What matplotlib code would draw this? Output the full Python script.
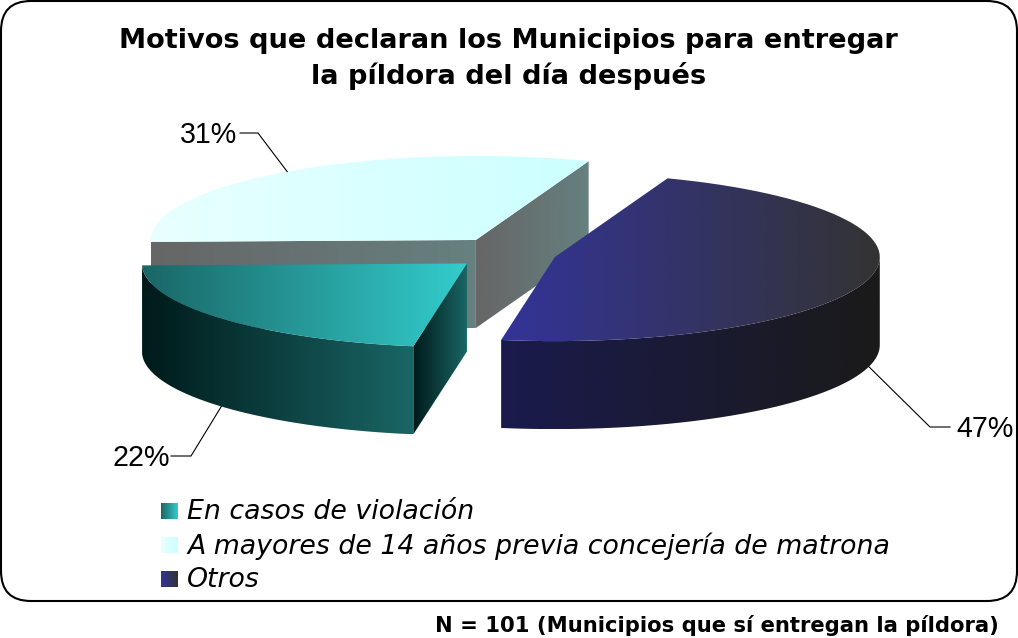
import numpy as np
import matplotlib
matplotlib.use("Agg")
import matplotlib.pyplot as plt
from matplotlib.colors import LinearSegmentedColormap
from matplotlib.patches import PathPatch, FancyBboxPatch
from matplotlib.path import Path

categories = ["En casos de violación",
              "A mayores de 14 años previa concejería de matrona",
              "Otros"]
values = [22, 31, 47]
top_colors = [("#1a6666", "#33cccc"), ("#e8ffff", "#ccffff"), ("#333399", "#333333")]
side_colors = [("#001a1a", "#1a6666"), ("#666666", "#668080"), ("#1a1a4d", "#1a1a1a")]
title = "Motivos que declaran los Municipios para entregar\nla píldora del día después"
footer = "N = 101 (Municipios que sí entregan la píldora)"

# pie geometry in pixels
cx, cy = 505.5, 253
rx, ry = 325, 84
depth = 88
ex, ey = 51, 16
start = -99.5

fig = plt.figure(figsize=(10.18, 6.38), dpi=100)
ax = fig.add_axes([0, 0, 1, 1])
ax.axis("off")


def grad(verts, colors, box=None):
    verts = np.array(verts)
    x0, x1 = verts[:, 0].min(), verts[:, 0].max()
    y0, y1 = verts[:, 1].min(), verts[:, 1].max()
    cmap = LinearSegmentedColormap.from_list("g", colors)
    im = ax.imshow(np.linspace(0, 1, 256).reshape(1, -1), cmap=cmap, aspect="auto",
                   extent=[x0, x1, y1, y0], interpolation="bilinear", zorder=2)
    patch = PathPatch(Path(np.vstack([verts, verts[0]])), fc="none", ec="none", transform=ax.transData)
    ax.add_patch(patch)
    im.set_clip_path(patch)


def rim(c, t):
    return np.column_stack([c[0] + rx * np.cos(t), c[1] - ry * np.sin(t)])


spans = np.array(values) / sum(values) * 2 * np.pi
ends = np.radians(start) - np.cumsum(spans)
starts = ends + spans
mids = (starts + ends) / 2

# back slice first, then the left one, the big one on top
for i in [1, 0, 2]:
    a, b, m = starts[i], ends[i], mids[i]
    c = (cx + ex * np.cos(m), cy - ey * np.sin(m))
    t = np.linspace(a, b, 200)
    arc = rim(c, t)
    down = np.array([0, depth])

    # cut faces, only the ones that look at the viewer
    for edge, normal in [(a, a + np.pi / 2), (b, b - np.pi / 2)]:
        if np.sin(normal) < 0:
            p = rim(c, np.array([edge]))[0]
            grad([c, p, p + down, np.array(c) + down], side_colors[i])

    # outer wall, front part of the rim
    front = arc[np.sin(t) < 0]
    if len(front):
        grad(np.vstack([front, (front + down)[::-1]]), side_colors[i])

    grad(np.vstack([[c], arc]), top_colors[i])

# leader lines and labels
label_elbow = [(191, 456), (258, 133), (930, 427)]
label_end = [(171, 456), (240, 133), (950, 427)]
label_pos = [(113, 458), (180, 135), (956, 429)]
for i in range(3):
    c = (cx + ex * np.cos(mids[i]), cy - ey * np.sin(mids[i]))
    p = rim(c, np.array([mids[i]]))[0]
    if np.sin(mids[i]) < 0:
        p = p + np.array([0, depth])
    xs = [p[0], label_elbow[i][0], label_end[i][0]]
    ys = [p[1], label_elbow[i][1], label_end[i][1]]
    ax.plot(xs, ys, color="black", lw=0.8, zorder=3)
    ax.text(label_pos[i][0], label_pos[i][1], "%d%%" % values[i], fontsize=20.6,
            family="Liberation Sans", va="center", ha="left", zorder=4)

# legend
leg_y = [511, 545, 579]
for i in range(3):
    y = leg_y[i]
    grad([(161, y - 8), (178, y - 8), (178, y + 8), (161, y + 8)], top_colors[i])
    ax.text(187, y + 1, categories[i], fontsize=19.3, style="italic", family="DejaVu Sans",
            va="center", ha="left")

ax.text(508.5, 59, title, fontsize=19.6, fontweight="bold", family="DejaVu Sans",
        ha="center", va="center", linespacing=1.4)
ax.text(999, 625, footer, fontsize=15.2, fontweight="bold", family="DejaVu Sans",
        ha="right", va="center")

frame = FancyBboxPatch((31, 31), 956, 540, boxstyle="round,pad=30,rounding_size=30",
                       fc="none", ec="black", lw=1.5, zorder=5)
ax.add_patch(frame)

ax.set_xlim(0, 1018)
ax.set_ylim(638, 0)
fig.savefig("out.png", dpi=100)
